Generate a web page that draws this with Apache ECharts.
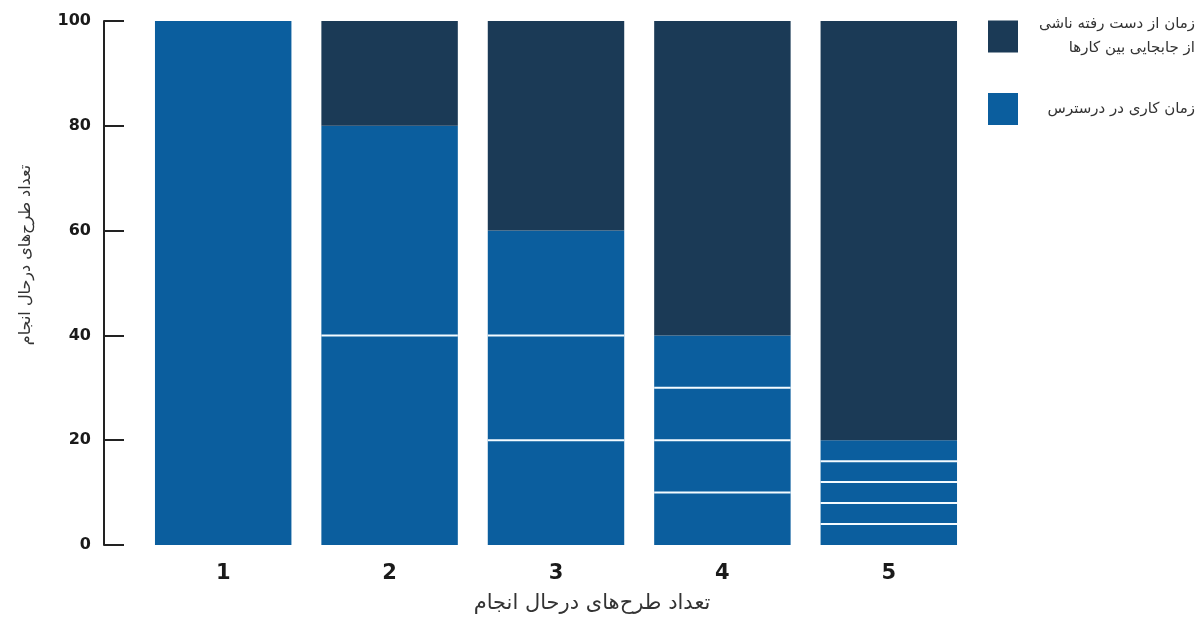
<!DOCTYPE html>
<html><head><meta charset="utf-8">
<script src="https://cdn.jsdelivr.net/npm/echarts@6/dist/echarts.min.js"></script>
<style>html,body{margin:0;padding:0;background:#fff}#c{width:1200px;height:617px}</style>
</head><body><div id="c"></div>
<script>
const categories = ['1', '2', '3', '4', '5'];
const available = [100, 80, 60, 40, 20];
const lost = [0, 20, 40, 60, 80];
// internal boundaries between blue sub-segments: [categoryIndex, value]
const separators = [[1, 40], [2, 20], [2, 40], [3, 10], [3, 20], [3, 30], [4, 4], [4, 8], [4, 12], [4, 16]];
const yTicks = [0, 20, 40, 60, 80, 100];
const nameAvailable = 'زمان کاری در درسترس';
const nameLost = 'زمان از دست رفته ناشی\nاز جابجایی بین کارها';
const axisTitle = 'تعداد طرح‌های درحال انجام';

const DARK = '#1b3a56', BLUE = '#0b5e9e';
const BAR_FRAC = 0.82;
const chart = echarts.init(document.getElementById('c'));
chart.setOption({
  animation: false,
  grid: { left: 140, right: 228, top: 21, bottom: 72, outerBoundsMode: 'none', containLabel: false },
  legend: {
    orient: 'vertical', left: 988, top: 17, padding: 0,
    itemWidth: 30, itemHeight: 32, itemGap: 37,
    data: [nameLost, nameAvailable],
    icon: 'rect',
    formatter: function (n) { return n.split('\n').map(s => '{a|' + s + '}').join('\n'); },
    textStyle: { rich: { a: { width: 172, align: 'right', fontSize: 15, color: '#333', lineHeight: 24, fontFamily: 'DejaVu Sans' } } }
  },
  xAxis: {
    type: 'category', data: categories,
    axisLine: { show: false }, axisTick: { show: false },
    axisLabel: { fontSize: 21, fontWeight: 'bold', color: '#1a1a1a', margin: 18, fontFamily: 'DejaVu Sans' },
    name: axisTitle, nameLocation: 'middle', nameGap: 48,
    nameTextStyle: { fontSize: 21, color: '#333', fontFamily: 'DejaVu Sans', padding: [0, 0, 0, 72] }
  },
  yAxis: {
    type: 'value', min: 0, max: 100, interval: 20, offset: 36,
    axisLine: { show: true, lineStyle: { color: '#222', width: 2 } },
    axisTick: { show: true, inside: true, length: 20, lineStyle: { color: '#222', width: 2 } },
    splitLine: { show: false },
    axisLabel: { fontSize: 16, fontWeight: 'bold', color: '#1a1a1a', margin: 13, fontFamily: 'DejaVu Sans',
      formatter: v => yTicks.includes(v) ? String(v) : '' },
    name: axisTitle, nameLocation: 'middle', nameGap: 70, nameRotate: 90,
    nameTextStyle: { fontSize: 16, color: '#333', fontFamily: 'DejaVu Sans', padding: [0, 0, 0, 56] }
  },
  series: [
    { name: nameAvailable, type: 'bar', stack: 's', data: available, barWidth: (BAR_FRAC * 100) + '%', itemStyle: { color: BLUE } },
    { name: nameLost, type: 'bar', stack: 's', data: lost, itemStyle: { color: DARK } },
    {
      type: 'custom', data: separators, z: 10, silent: true,
      renderItem: function (params, api) {
        const p = api.coord([api.value(0), api.value(1)]);
        const w = api.size([1, 0])[0] * BAR_FRAC;
        return { type: 'line', shape: { x1: p[0] - w / 2, y1: p[1], x2: p[0] + w / 2, y2: p[1] },
          style: { stroke: '#f4fbff', lineWidth: 2 } };
      }
    }
  ]
});
</script></body></html>
